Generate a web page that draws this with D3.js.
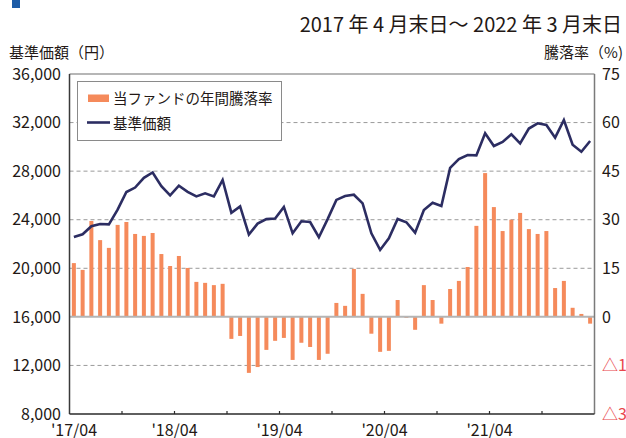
<!DOCTYPE html>
<html>
<head>
<meta charset="utf-8">
<script src="https://cdn.jsdelivr.net/npm/d3@7"></script>
<style>
  html, body { margin: 0; padding: 0; background: #fff; }
  svg { display: block; font-family: "Noto Sans CJK JP", "Noto Sans", sans-serif; }
</style>
</head>
<body>
<div id="chart"></div>
<script>
// === data ===
const titleText = "2017 年 4 月末日～ 2022 年 3 月末日";
const leftTitle = "基準価額（円）";
const rightTitle = "騰落率（%)";
const legendLabels = ["当ファンドの年間騰落率", "基準価額"];

// monthly categories, 2017/04 .. 2022/03
const months = d3.timeMonth.range(new Date(2017, 3, 1), new Date(2022, 3, 1));

// annual return of the fund (%), one bar per month
const annualReturn = [
  16.6, 14.5, 29.6, 23.7, 21.3, 28.4, 29.3, 25.6, 25.0, 25.9, 19.4, 15.7,
  18.8, 15.1, 10.8, 10.5, 9.8, 10.2, -6.8, -5.9, -17.3, -15.5, -10.2, -7.4,
  -6.5, -13.3, -8.0, -9.3, -13.3, -11.4, 4.3, 3.4, 14.8, 7.1, -5.2, -10.8,
  -10.5, 5.2, -0.3, -4.0, 9.8, 5.2, -2.1, 8.6, 11.1, 15.4, 28.1, 44.4,
  33.9, 26.5, 30.0, 32.1, 27.1, 25.6, 26.5, 8.9, 11.1, 2.8, 0.9, -2.1
];

// NAV (yen), month end
const nav = [
  22580, 22800, 23460, 23650, 23620, 24830, 26280, 26650, 27450, 27890, 26760, 26000,
  26800, 26300, 25920, 26170, 25920, 27270, 24560, 25100, 22780, 23680, 24050, 24100,
  25050, 22880, 23870, 23810, 22560, 24050, 25630, 25950, 26060, 25350, 22880, 21510,
  22470, 24060, 23790, 22930, 24800, 25400, 25130, 28270, 28990, 29330, 29300, 31120,
  30070, 30400, 31040, 30290, 31510, 31940, 31800, 30760, 32210, 30180, 29600, 30480
];

const xTickMonths = [0, 12, 24, 36, 48];
const xTickLabels = ["'17/04", "'18/04", "'19/04", "'20/04", "'21/04"];
const minorTickMonths = [6, 12, 18, 24, 30, 36, 42, 48, 54];
const navTicks = [8000, 12000, 16000, 20000, 24000, 28000, 32000, 36000];
const retTicks = [-30, -15, 0, 15, 30, 45, 60, 75];

// === layout ===
const W = 626, H = 438;
const plotL = 69.5, plotR = 594.5, plotT = 74, plotB = 414;
const barColor = "#f58a5b";
const lineColor = "#2c2d62";
const textColor = "#231815";

const svg = d3.select("#chart").append("svg")
  .attr("width", W).attr("height", H);

// little blue marker in the corner
svg.append("rect").attr("x", 12).attr("y", 0).attr("width", 8).attr("height", 8)
  .attr("fill", "#1d5ca7");

svg.append("text")
  .attr("x", 622).attr("y", 32)
  .attr("text-anchor", "end")
  .attr("font-size", 20)
  .attr("fill", textColor)
  .text(titleText);

svg.append("text").attr("x", 9).attr("y", 58)
  .attr("font-size", 15).attr("fill", textColor).text(leftTitle);
svg.append("text").attr("x", 623).attr("y", 58).attr("text-anchor", "end")
  .attr("font-size", 15).attr("fill", textColor).text(rightTitle);

const x = d3.scaleBand().domain(months.map((d, i) => i)).range([plotL, plotR]);
const yNav = d3.scaleLinear().domain([8000, 36000]).range([plotB, plotT]);
const yRet = d3.scaleLinear().domain([-30, 75]).range([plotB, plotT]);
const cx = (i) => x(i) + x.bandwidth() / 2;
const xEdge = (i) => plotL + i * x.step();

// grid
svg.append("g").selectAll("line")
  .data(navTicks.filter((v) => v !== 8000 && v !== 36000 && v !== 16000))
  .join("line")
  .attr("x1", plotL).attr("x2", plotR)
  .attr("y1", (d) => yNav(d)).attr("y2", (d) => yNav(d))
  .attr("stroke", "#9a9a9a").attr("stroke-width", 1)
  .attr("stroke-dasharray", "4,3");

// bars
const barW = 4;
svg.append("g").selectAll("rect")
  .data(annualReturn)
  .join("rect")
  .attr("x", (d, i) => cx(i) - barW / 2)
  .attr("width", barW)
  .attr("y", (d) => yRet(Math.max(0, d)))
  .attr("height", (d) => Math.max(0.6, Math.abs(yRet(d) - yRet(0))))
  .attr("fill", barColor);

// zero line
svg.append("line")
  .attr("x1", plotL).attr("x2", plotR)
  .attr("y1", yRet(0)).attr("y2", yRet(0))
  .attr("stroke", "#b5b5b5").attr("stroke-width", 2);

// NAV line
svg.append("path")
  .datum(nav)
  .attr("d", d3.line().x((d, i) => cx(i)).y((d) => yNav(d)))
  .attr("fill", "none")
  .attr("stroke", lineColor)
  .attr("stroke-width", 2.6)
  .attr("stroke-linejoin", "miter");

// frame
svg.append("line").attr("x1", plotL).attr("x2", plotR).attr("y1", plotT).attr("y2", plotT)
  .attr("stroke", "#6e6e6e").attr("stroke-width", 1.2);
svg.append("line").attr("x1", plotR).attr("x2", plotR).attr("y1", plotT).attr("y2", plotB)
  .attr("stroke", "#7a7a7a").attr("stroke-width", 1.5);
svg.append("line").attr("x1", plotL).attr("x2", plotL).attr("y1", plotT).attr("y2", plotB)
  .attr("stroke", "#3a3a3a").attr("stroke-width", 1.5);
svg.append("line").attr("x1", plotL).attr("x2", plotR).attr("y1", plotB).attr("y2", plotB)
  .attr("stroke", "#2a2a2a").attr("stroke-width", 1.5);

// small x ticks pointing inward
svg.append("g").selectAll("line")
  .data(minorTickMonths)
  .join("line")
  .attr("x1", (d) => xEdge(d)).attr("x2", (d) => xEdge(d))
  .attr("y1", plotB).attr("y2", plotB - 3)
  .attr("stroke", "#2a2a2a").attr("stroke-width", 1.2);

// axis labels
svg.append("g").selectAll("text")
  .data(navTicks)
  .join("text")
  .attr("x", 61).attr("y", (d) => yNav(d))
  .attr("dy", "0.36em")
  .attr("text-anchor", "end")
  .attr("font-size", 16).attr("fill", textColor)
  .text((d) => d3.format(",")(d));

// right axis; negatives are shown in red with a triangle, cut by the page edge as in the print
svg.append("g").selectAll("text")
  .data(retTicks)
  .join("text")
  .attr("x", 602).attr("y", (d) => yRet(d))
  .attr("dy", "0.36em")
  .attr("font-size", 16)
  .attr("fill", (d) => (d < 0 ? "#e9464c" : textColor))
  .text((d) => (d < 0 ? "△" + Math.abs(d) : d));

svg.append("g").selectAll("text")
  .data(xTickMonths)
  .join("text")
  .attr("x", (d, i) => xEdge(d) + (i === 0 ? 4.5 : 0))
  .attr("y", 436)
  .attr("text-anchor", "middle")
  .attr("font-size", 16).attr("fill", textColor)
  .text((d, i) => xTickLabels[i]);

// legend
const lg = svg.append("g");
lg.append("rect").attr("x", 77.5).attr("y", 81.5).attr("width", 204).attr("height", 59)
  .attr("fill", "#fff").attr("stroke", "#8a8a8a").attr("stroke-width", 1);
lg.append("rect").attr("x", 88).attr("y", 94.5).attr("width", 21).attr("height", 7.5)
  .attr("fill", barColor);
lg.append("line").attr("x1", 87).attr("x2", 110).attr("y1", 122.5).attr("y2", 122.5)
  .attr("stroke", lineColor).attr("stroke-width", 2.6);
lg.selectAll("text.lgt")
  .data(legendLabels)
  .join("text")
  .attr("class", "lgt")
  .attr("x", 113).attr("y", (d, i) => (i === 0 ? 99 : 124))
  .attr("dy", "0.36em")
  .attr("font-size", 14.5).attr("fill", textColor)
  .text((d) => d);
</script>
</body>
</html>
